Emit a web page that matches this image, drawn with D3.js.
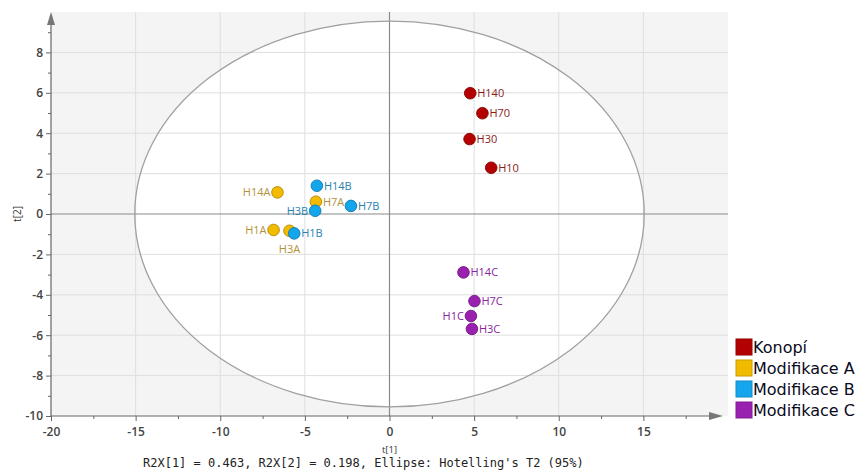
<!DOCTYPE html>
<html><head><meta charset="utf-8">
<script src="https://cdn.jsdelivr.net/npm/d3@7"></script>
<style>body{margin:0;background:#fff}svg{display:block}</style>
</head><body>
<svg id="c" width="863" height="472"></svg>
<script>
// ---- data ----
const groups = ["Konopí", "Modifikace A", "Modifikace B", "Modifikace C"];
const groupColors = ["#b30000", "#f2bb00", "#14a6ec", "#9a20b0"];
const labelColors = ["#8c1c1c", "#b3923a", "#2a7fb2", "#86279c"];
const sampleNames = ["H140","H70","H30","H10","H14A","H7A","H1A","H3A","H14B","H7B","H3B","H1B","H14C","H7C","H1C","H3C"];
const sampleGroup = [0,0,0,0,1,1,1,1,2,2,2,2,3,3,3,3];
const t1 = [4.77, 5.49, 4.73, 6.01, -6.62, -4.35, -6.85, -5.91, -4.29, -2.28, -4.39, -5.63, 4.37, 5.02, 4.81, 4.87];
const t2 = [5.98, 4.99, 3.71, 2.29, 1.07, 0.61, -0.79, -0.83, 1.40, 0.40, 0.16, -0.96, -2.89, -4.31, -5.05, -5.69];
const labelSide = {H14A:"left", H1A:"left", H3B:"left", H3A:"below", H1C:"left"};
const xTicks = [-20, -15, -10, -5, 0, 5, 10, 15];
const yTicks = [-10, -8, -6, -4, -2, 0, 2, 4, 6, 8];
const ellipseRadii = [15.05, 9.55];
const footer = "R2X[1] = 0.463, R2X[2] = 0.198, Ellipse: Hotelling's T2 (95%)";

// ---- chart ----
const svg = d3.select("#c");
const x = d3.scaleLinear().domain([-20, 20]).range([51, 728]);
const y = d3.scaleLinear().domain([-10, 10]).range([416, 12]);

svg.append("rect").attr("x", x(-20)).attr("y", y(10))
  .attr("width", x(20) - x(-20)).attr("height", y(-10) - y(10)).attr("fill", "#f4f4f4");

const rx = x(ellipseRadii[0]) - x(0), ry = y(0) - y(ellipseRadii[1]);
svg.append("ellipse").attr("cx", x(0)).attr("cy", y(0)).attr("rx", rx).attr("ry", ry).attr("fill", "#ffffff");

// grid
const gx = xTicks.filter(v => v !== -20 && v !== 0);
const gy = yTicks.filter(v => v !== -10 && v !== 0);
svg.append("g").selectAll("line").data(gx).join("line")
  .attr("x1", d => x(d)).attr("x2", d => x(d)).attr("y1", y(10)).attr("y2", y(-10))
  .attr("stroke", "#dedede").attr("stroke-width", 1);
svg.append("g").selectAll("line").data(gy).join("line")
  .attr("y1", d => y(d)).attr("y2", d => y(d)).attr("x1", x(-20)).attr("x2", x(20))
  .attr("stroke", "#dedede").attr("stroke-width", 1);

// zero lines
svg.append("line").attr("x1", x(0)).attr("x2", x(0)).attr("y1", y(10)).attr("y2", y(-10))
  .attr("stroke", "#8a8a8a").attr("stroke-width", 1.2);
svg.append("line").attr("y1", y(0)).attr("y2", y(0)).attr("x1", x(-20)).attr("x2", x(20))
  .attr("stroke", "#8a8a8a").attr("stroke-width", 1.2);

// ellipse outline
svg.append("ellipse").attr("cx", x(0)).attr("cy", y(0)).attr("rx", rx).attr("ry", ry)
  .attr("fill", "none").attr("stroke", "#a0a0a0").attr("stroke-width", 1.3);

// axes
const tickFont = "'Open Sans', sans-serif";
const yAxis = d3.axisLeft(y).tickValues(yTicks).tickSize(5).tickPadding(3);
const gyA = svg.append("g").attr("transform", `translate(${x(-20)},0)`).call(yAxis);
const yMinor = d3.axisLeft(y).tickValues(d3.range(-9, 10, 2)).tickSize(3).tickFormat("");
const gyM = svg.append("g").attr("transform", `translate(${x(-20)},0)`).call(yMinor);
const xAxis = d3.axisBottom(x).tickValues(xTicks).tickSize(5).tickPadding(6);
const gxA = svg.append("g").attr("transform", `translate(0,${y(-10)})`).call(xAxis);
const xMinor = d3.axisBottom(x).tickValues(d3.range(-17.5, 20, 5)).tickSize(3).tickFormat("");
const gxM = svg.append("g").attr("transform", `translate(0,${y(-10)})`).call(xMinor);
[gyA, gyM, gxA, gxM].forEach(g => {
  g.select(".domain").remove();
  g.selectAll(".tick line").attr("stroke", "#666");
  g.selectAll(".tick text").attr("fill", "#444").attr("font-family", tickFont)
   .attr("font-size", 12).attr("font-weight", 600);
});
gxA.selectAll(".tick text").text(d => d < 0 ? "-" + Math.abs(d) : d);
gyA.selectAll(".tick text").text(d => d < 0 ? "-" + Math.abs(d) : d);

// axis lines with arrows
svg.append("line").attr("x1", x(-20)).attr("x2", x(-20)).attr("y1", y(-10)).attr("y2", 20)
  .attr("stroke", "#666").attr("stroke-width", 1.2);
svg.append("path").attr("d", `M${x(-20)-4},${25} L${x(-20)},${12} L${x(-20)+4},${25} Z`).attr("fill", "#777");
svg.append("line").attr("x1", x(-20)).attr("x2", 715).attr("y1", y(-10)).attr("y2", y(-10))
  .attr("stroke", "#666").attr("stroke-width", 1.2);
svg.append("path").attr("d", `M${709},${y(-10)-4} L${723},${y(-10)} L${709},${y(-10)+4} Z`).attr("fill", "#777");

// axis titles
svg.append("text").attr("x", x(0)).attr("y", 453).attr("text-anchor", "middle")
  .attr("font-family", tickFont).attr("font-size", 9.5).attr("fill", "#333").text("t[1]");
svg.append("text").attr("transform", `translate(21,${y(0)}) rotate(-90)`).attr("text-anchor", "middle")
  .attr("font-family", tickFont).attr("font-size", 10).attr("fill", "#333").text("t[2]");

// footer
svg.append("text").attr("x", 143).attr("y", 467).attr("font-family", "'DejaVu Sans Mono', monospace")
  .attr("font-size", 12).attr("fill", "#222").text(footer);

// points
const pts = sampleNames.map((n, i) => ({name: n, g: sampleGroup[i], x: t1[i], y: t2[i]}));
const gp = svg.append("g");
gp.selectAll("circle").data(pts).join("circle")
  .attr("cx", d => x(d.x)).attr("cy", d => y(d.y)).attr("r", 5.8)
  .attr("fill", d => groupColors[d.g])
  .attr("stroke", d => d3.color(groupColors[d.g]).darker(0.9)).attr("stroke-width", 0.9);

const gl = svg.append("g").attr("font-family", "'Open Sans', sans-serif").attr("font-size", 11);
gl.selectAll("text").data(pts).join("text")
  .attr("x", d => {
    const s = labelSide[d.name];
    if (s === "left") return x(d.x) - 7;
    if (s === "below") return x(d.x);
    return x(d.x) + 7;
  })
  .attr("y", d => labelSide[d.name] === "below" ? y(d.y) + 22 : y(d.y) + 4)
  .attr("text-anchor", d => {
    const s = labelSide[d.name];
    return s === "left" ? "end" : s === "below" ? "middle" : "start";
  })
  .attr("fill", d => labelColors[d.g]).text(d => d.name);

// legend
const lg = svg.append("g");
const rows = lg.selectAll("g").data(groups).join("g")
  .attr("transform", (d, i) => `translate(736,${339 + i * 21})`);
rows.append("rect").attr("width", 16).attr("height", 16)
  .attr("fill", (d, i) => groupColors[i])
  .attr("stroke", (d, i) => d3.color(groupColors[i]).darker(0.5)).attr("stroke-width", 1);
rows.append("text").attr("x", 17).attr("y", 14)
  .attr("font-family", "'DejaVu Sans', sans-serif").attr("font-size", 16).attr("fill", "#0a0a20")
  .text(d => d);
</script>
</body></html>
